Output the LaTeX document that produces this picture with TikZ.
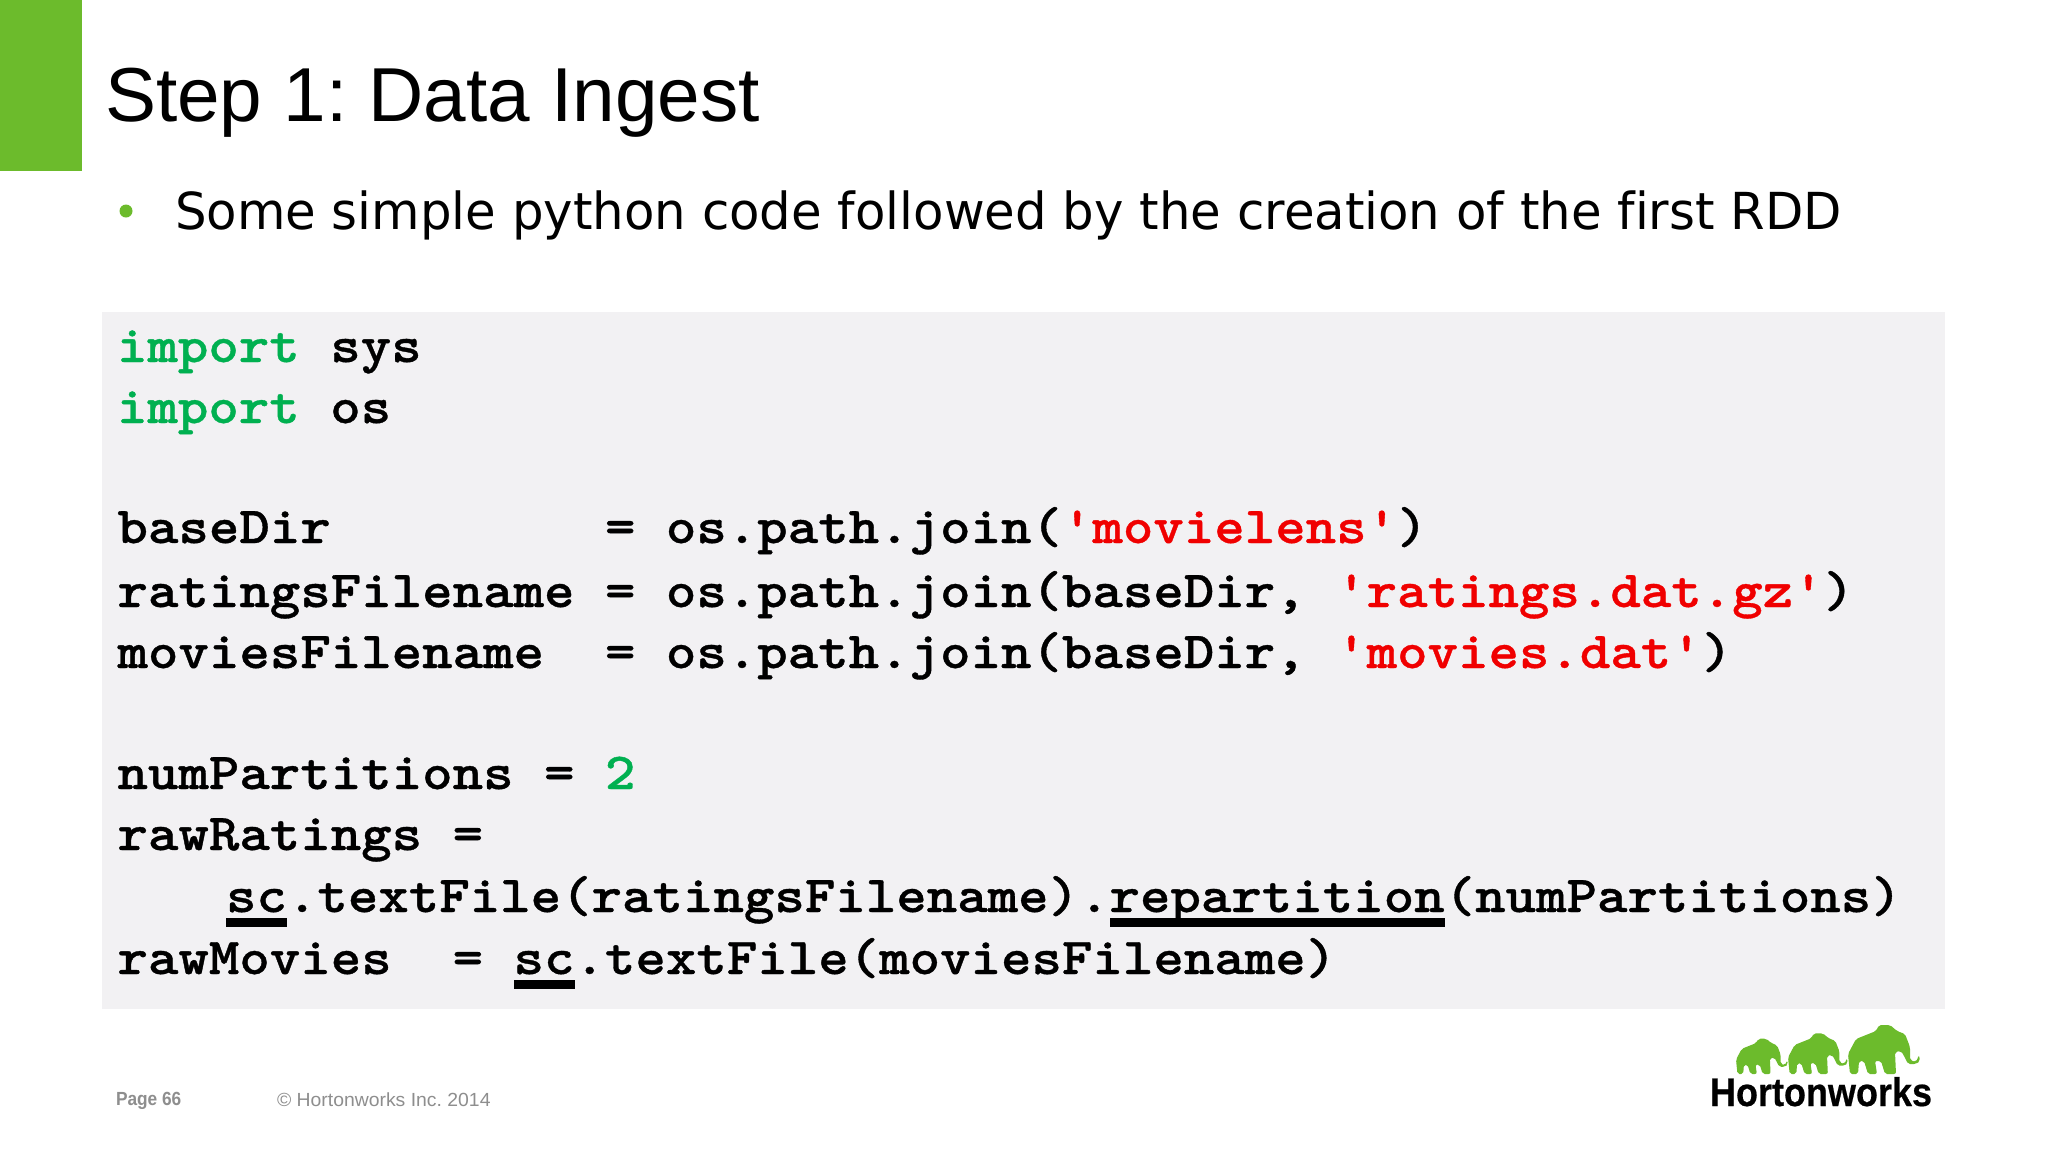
\documentclass[tikz,border=0pt]{standalone}
\usepackage{fontspec}
\setmainfont{Liberation Sans}
\newfontfamily\bodyfont[FakeStretch=0.976,Ligatures=NoCommon]{DejaVu Sans}
\newfontfamily\codefont[FakeStretch=1.116,FakeBold=0.7]{lmmonolt10-bold.otf}
\newfontfamily\pagefont[FakeStretch=0.91]{Liberation Sans Bold}
\newfontfamily\footfont[FakeStretch=1.02]{Liberation Sans}
\newfontfamily\logofont[FakeStretch=0.9,FakeBold=0.5]{Liberation Sans Bold}
\definecolor{barGreen}{HTML}{6CBB2C}
\definecolor{boxGray}{HTML}{F2F1F3}
\definecolor{keyGreen}{HTML}{00B050}
\definecolor{strRed}{HTML}{F00000}
\definecolor{footGray}{HTML}{8E8E8E}
\newcommand{\kw}[1]{\textcolor{keyGreen}{#1}}
\newcommand{\str}[1]{\textcolor{strRed}{#1}}
\newcommand{\codeul}[1]{\sbox0{#1}\rlap{\rule[-15pt]{\wd0}{9pt}}#1}
\tikzset{
  every node/.style={inner sep=0pt,outer sep=0pt},
  code line/.style={anchor=base west,font=\fontsize{52}{60}\codefont},
  elephant/.pic={
    \fill[barGreen,rounded corners=2pt] (2,0) -- (0,-20) -- (8,-35) -- (28,-43) -- (31,-49) -- (42,-49)
      -- (49,-43) -- (57,-40) -- (62,-27) -- (62,-14) -- (68,-12) -- (71,-19) -- (72,-13) -- (68,-10)
      -- (60,-10) -- (55,-20) -- (53,-23) -- (47,-22) -- (48,0) -- (37,0) -- (33,-13) -- (27,-13)
      -- (29,0) -- (20,0) -- (16,-13) -- (11,-13) -- (10,0) -- cycle;
  }
}
\begin{document}
\frenchspacing
\begin{tikzpicture}[x=1pt,y=-1pt]
\useasboundingbox (0,0) rectangle (2048,1152);
\fill[white] (0,0) rectangle (2048,1152);
\node[fill=barGreen,minimum width=82pt,minimum height=171pt,anchor=north west] (bar) at (0,0) {};
\node[anchor=base west,font=\fontsize{76.5}{90}\selectfont] (title) at (105,121) {Step 1: Data Ingest};
\node[circle,fill=barGreen,minimum size=13pt] (bullet) at (126,211) {};
\node[anchor=base west,font=\fontsize{51}{60}\bodyfont] (point) at (175,229) {Some simple python code followed by the creation of the first RDD};
\node[fill=boxGray,minimum width=1843pt,minimum height=697pt,anchor=north west] (codebox) at (102,312) {};
% code lines
\node[code line] (importsys) at (117,362) {\kw{import} sys};
\node[code line] (importos) at (117,423) {\kw{import} os};
\node[code line] (basedir) at (117.5,543) {baseDir~~~~~~~~~= os.path.join(\str{'movielens'})};
\node[code line] (ratingsfile) at (117.5,607) {ratingsFilename = os.path.join(baseDir, \str{'ratings.dat.gz'})};
\node[code line] (moviesfile) at (117.5,668) {moviesFilename~~= os.path.join(baseDir, \str{'movies.dat'})};
\node[code line] (numparts) at (117.5,789) {numPartitions = \kw{2}};
\node[code line] (rawratings) at (117.5,850) {rawRatings =};
\node[code line] (textfile) at (226,912) {\codeul{sc}.textFile(ratingsFilename).\codeul{repartition}(numPartitions)};
\node[code line] (rawmovies) at (117.5,974) {rawMovies~~= \codeul{sc}.textFile(moviesFilename)};
% footer
\node[anchor=base west,text=footGray,font=\fontsize{19}{22}\pagefont] (page) at (116,1105) {Page 66};
\node[anchor=base west,text=footGray,font=\fontsize{19}{22}\footfont] (copy) at (277,1106) {© Hortonworks Inc. 2014};
% logo
\pic at (1736,1074) [scale=.72] {elephant};
\pic at (1788,1074) [scale=.83] {elephant};
\pic at (1848,1074) {elephant};
\node[anchor=base west,font=\fontsize{40}{44}\logofont] (logo) at (1710,1106) {Hortonworks};
\end{tikzpicture}
\end{document}
